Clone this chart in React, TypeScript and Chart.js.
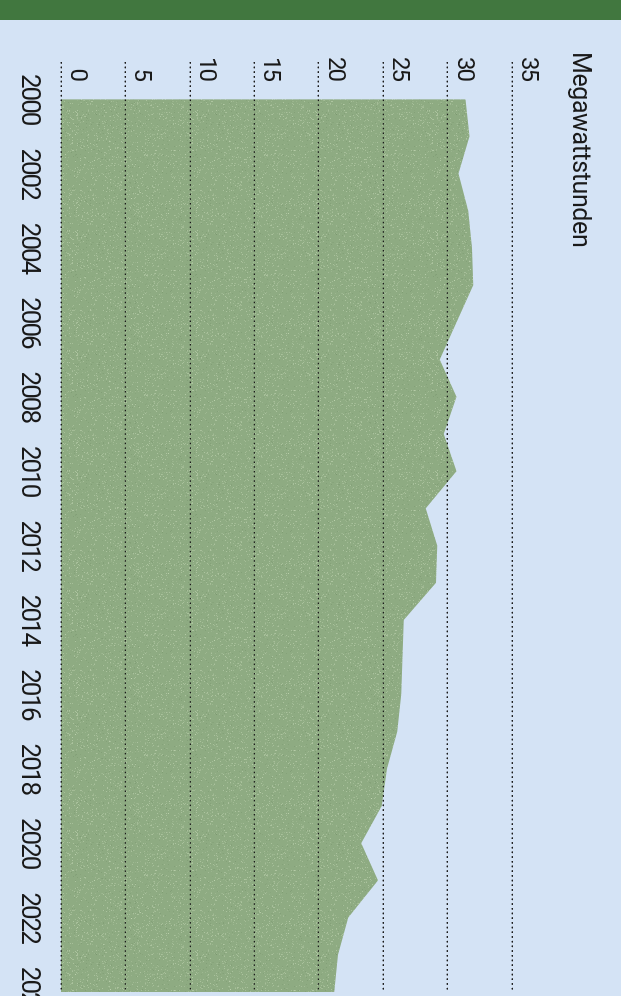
import React, { useEffect, useRef } from 'react';
import { Chart, registerables } from 'chart.js';

Chart.register(...registerables);

// ---- data ----
const years = [2000, 2001, 2002, 2003, 2004, 2005, 2006, 2007, 2008, 2009, 2010, 2011, 2012,
  2013, 2014, 2015, 2016, 2017, 2018, 2019, 2020, 2021, 2022, 2023, 2024];
const values = [31.4, 31.7, 30.85, 31.6, 31.9, 32.0, 30.7, 29.4, 30.7, 29.7, 30.7, 28.3, 29.2,
  29.1, 26.6, 26.5, 26.4, 26.1, 25.3, 24.9, 23.3, 24.6, 22.3, 21.5, 21.2];
const yearTicks = [2000, 2002, 2004, 2006, 2008, 2010, 2012, 2014, 2016, 2018, 2020, 2022, 2024];
const valueTicks = [0, 5, 10, 15, 20, 25, 30, 35];
const unitLabel = 'Megawattstunden';

const TICK_FONT = "Roboto, 'Liberation Sans', sans-serif";

function makePattern(): CanvasPattern | string {
  const c = document.createElement('canvas');
  c.width = 120;
  c.height = 120;
  const g = c.getContext('2d');
  if (!g) return '#8eab82';
  g.fillStyle = '#8eab82';
  g.fillRect(0, 0, 120, 120);
  let s = 12345;
  const rnd = () => {
    s = (s * 1103515245 + 12345) % 2147483648;
    return s / 2147483648;
  };
  for (let i = 0; i < 1400; i++) {
    const x = Math.floor(rnd() * 120);
    const y = Math.floor(rnd() * 120);
    const a = 0.15 + rnd() * 0.35;
    g.fillStyle = `rgba(205,222,190,${a.toFixed(2)})`;
    g.fillRect(x, y, 1, 1);
  }
  for (let i = 0; i < 500; i++) {
    const x = Math.floor(rnd() * 120);
    const y = Math.floor(rnd() * 120);
    const a = 0.08 + rnd() * 0.15;
    g.fillStyle = `rgba(90,120,80,${a.toFixed(2)})`;
    g.fillRect(x, y, 1, 1);
  }
  const p = g.createPattern(c, 'repeat');
  return p || '#8eab82';
}

export default function App() {
  const ref = useRef<HTMLCanvasElement>(null);

  useEffect(() => {
    const canvas = ref.current;
    if (!canvas) return;
    const pattern = makePattern();
    const condense = (chart: any) => {
      try {
        chart.ctx.letterSpacing = '-2px';
      } catch (e) {
        /* ignore */
      }
    };
    const tightText = {
      id: 'tightText',
      beforeLayout: condense,
      beforeDraw: condense,
    };
    const gridOnTop = {
      id: 'gridOnTop',
      afterDatasetsDraw(chart: any) {
        const s = chart.scales.y;
        s._gridLineItems = null;
        s.drawGrid(chart.chartArea);
      },
    };
    const chart = new Chart(canvas, {
      type: 'line',
      data: {
        datasets: [
          {
            data: years.map((y, i) => ({ x: y, y: values[i] })),
            fill: 'origin',
            backgroundColor: pattern as any,
            borderWidth: 0,
            pointRadius: 0,
            tension: 0,
          },
        ],
      },
      options: {
        animation: false,
        responsive: false,
        events: [],
        layout: { padding: { top: 109, left: 62, right: 108, bottom: 0 } },
        plugins: {
          legend: { display: false },
          tooltip: { enabled: false },
          title: { display: false },
        },
        scales: {
          x: {
            type: 'linear',
            min: 1999,
            max: 2024,
            grid: { display: false, drawTicks: false },
            border: { display: false },
            afterBuildTicks: (s: any) => {
              s.ticks = yearTicks.map((v) => ({ value: v }));
            },
            afterFit: (s: any) => {
              s.height = 61;
            },
            ticks: {
              padding: 17,
              maxRotation: 0,
              autoSkip: false,
              color: '#1a1a1a',
              font: { family: TICK_FONT, size: 26 },
              callback: (v: any) => String(v),
            },
          },
          y: {
            type: 'linear',
            min: 0,
            max: 35,
            afterBuildTicks: (s: any) => {
              s.ticks = valueTicks.map((v) => ({ value: v }));
            },
            afterFit: (s: any) => {
              s.width = 0;
            },
            grid: { color: '#1a1a1a', lineWidth: 1.3, drawTicks: false },
            border: { display: false, dash: [1.5, 3.2] },
            ticks: {
              mirror: true,
              crossAlign: 'far',
              padding: -5,
              labelOffset: -16,
              color: '#1a1a1a',
              font: { family: TICK_FONT, size: 24 },
              callback: (v: any) => String(v),
            },
          },
        },
      },
      plugins: [tightText, gridOnTop],
    } as any);
    return () => chart.destroy();
  }, []);

  return (
    <div
      style={{
        position: 'fixed',
        left: 0,
        top: 0,
        width: 621,
        height: 996,
        overflow: 'hidden',
        background: '#d4e3f5',
      }}
    >
      <div
        style={{
          position: 'absolute',
          left: 0,
          top: 0,
          width: 1100,
          height: 621,
          transformOrigin: '0 0',
          transform: 'translate(621px, 0px) rotate(90deg)',
        }}
      >
        <div
          style={{
            position: 'absolute',
            left: 52,
            top: 27,
            fontFamily: 'Roboto, sans-serif',
            fontSize: 25,
            letterSpacing: '-0.4px',
            lineHeight: '25px',
            color: '#1a1a1a',
            whiteSpace: 'nowrap',
          }}
        >
          {unitLabel}
        </div>
        <canvas ref={ref} width={1100} height={621} style={{ display: 'block' }} />
      </div>
      <div
        style={{
          position: 'absolute',
          left: 0,
          top: 0,
          width: 621,
          height: 20,
          background: '#41773f',
          zIndex: 2,
        }}
      />
    </div>
  );
}
